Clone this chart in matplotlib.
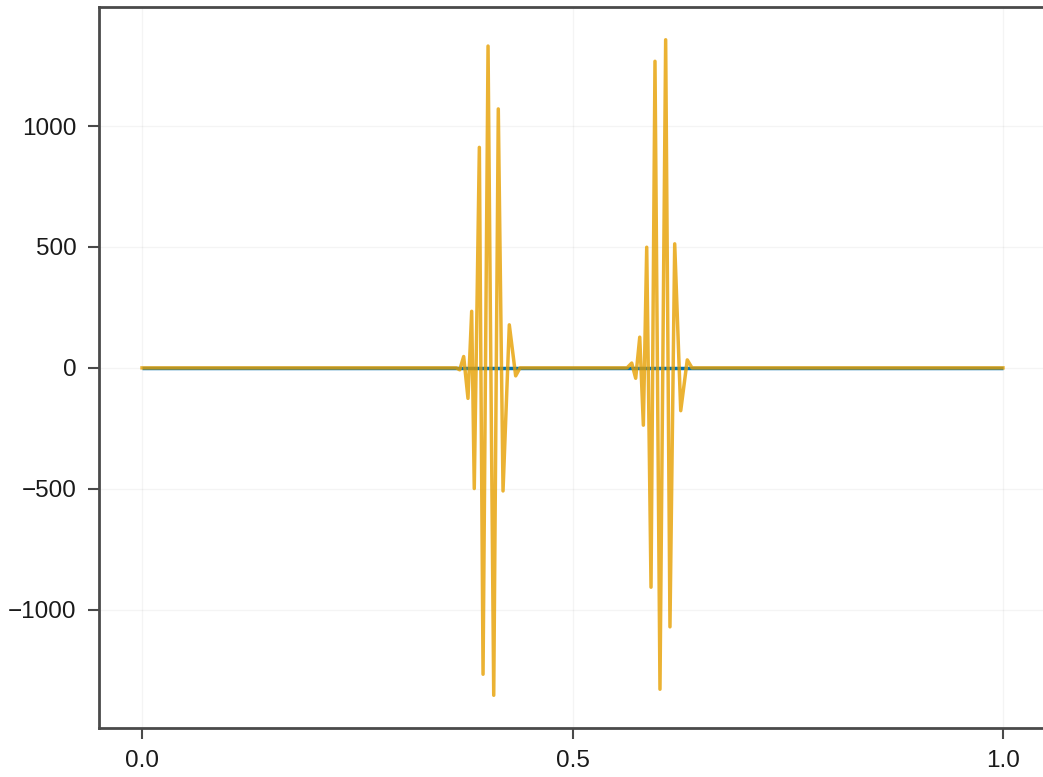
import matplotlib
matplotlib.use("Agg")
import matplotlib.pyplot as plt
import numpy as np

# flat reference series (blue) and the two wave packets (orange)
x_flat = [0.0, 1.0]
y_flat = [0.0, 0.0]

x_packet1 = [0.365, 0.369, 0.3736, 0.3786, 0.3829, 0.3859, 0.3918, 0.3961,
             0.4019, 0.4085, 0.4138, 0.4193, 0.4266, 0.434, 0.439]
y_packet1 = [0, -8, 47, -126, 234, -499, 912, -1267,
             1331, -1354, 1071, -509, 178, -33, 0]

x_packet2 = [0.5633, 0.5688, 0.5734, 0.5781, 0.5823, 0.5862, 0.5912, 0.5958,
             0.6016, 0.6082, 0.6132, 0.6187, 0.6257, 0.6333, 0.6388]
y_packet2 = [0, 20, -43, 127, -237, 499, -907, 1268,
             -1329, 1357, -1071, 513, -177, 33, 0]

x_ticks = [0.0, 0.5, 1.0]
y_ticks = [-1000, -500, 0, 500, 1000]

blue = "#0072B2"
orange = "#E69F00"

x_wave = np.concatenate([[0.0], x_packet1, x_packet2, [1.0]])
y_wave = np.concatenate([[0.0], y_packet1, y_packet2, [0.0]])

plt.rcParams["font.family"] = ["Liberation Sans", "DejaVu Sans"]

fig = plt.figure(figsize=(10.43, 7.77), dpi=100)
ax = fig.add_axes([0.0949, 0.063, 0.908, 0.928])

ax.plot(x_flat, y_flat, color=blue, linewidth=2.5, solid_capstyle="butt")
ax.plot(x_wave, y_wave, color=orange, alpha=0.8, linewidth=2.5,
        solid_joinstyle="round")

# limits with 5% margin like the original autolimits
ymin, ymax = y_wave.min(), y_wave.max()
pad = 0.05 * (ymax - ymin)
ax.set_xlim(-0.05, 1.05)
ax.set_ylim(ymin - pad, ymax + pad)

ax.set_xticks(x_ticks)
ax.set_xticklabels(["0.0", "0.5", "1.0"])
ax.set_yticks(y_ticks)
ax.set_yticklabels(["\u22121000", "\u2212500", "0", "500", "1000"])

ax.grid(True, color="black", alpha=0.045, linewidth=1)
ax.set_axisbelow(True)

for side in ["left", "top", "bottom"]:
    ax.spines[side].set_color("#4a4a4a")
    ax.spines[side].set_linewidth(2)
ax.spines["right"].set_visible(False)  # falls just outside the crop

ax.tick_params(axis="both", direction="out", length=8, width=1.5,
               color="#4a4a4a", labelsize=17.5, labelcolor="#1a1a1a", pad=8)

fig.savefig("out.png", dpi=100, facecolor="white")
